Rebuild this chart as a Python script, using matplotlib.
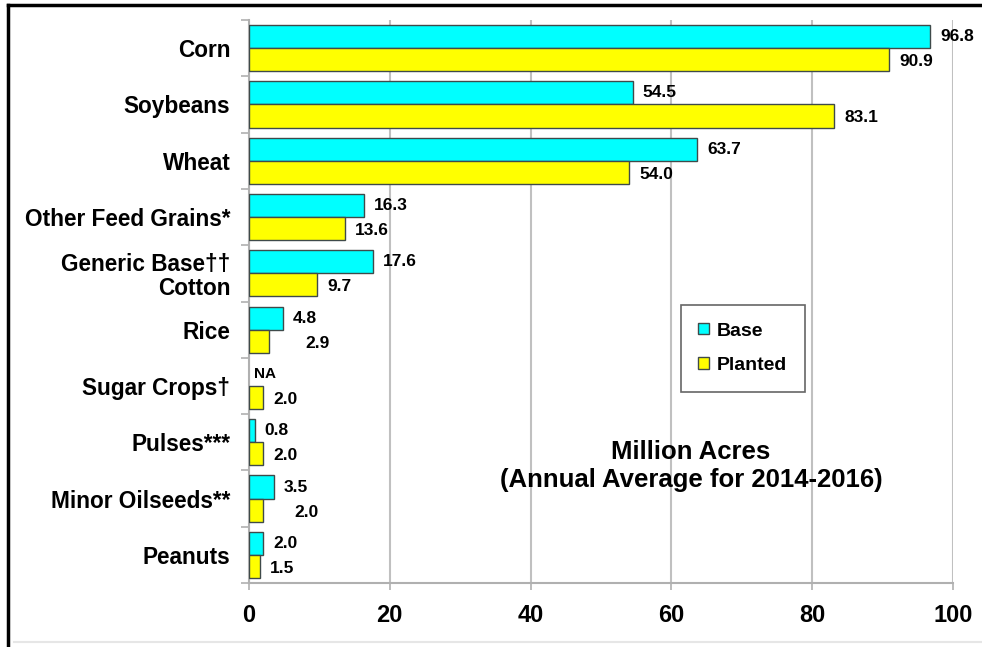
import numpy as np
import matplotlib.pyplot as plt
from matplotlib.lines import Line2D

plt.rcParams['font.family'] = ['Liberation Sans', 'DejaVu Sans']
plt.rcParams['font.weight'] = 'bold'

crops = ["Corn", "Soybeans", "Wheat", "Other Feed Grains*", "Generic Base\u2020\u2020\nCotton",
         "Rice", "Sugar Crops\u2020", "Pulses***", "Minor Oilseeds**", "Peanuts"]
base = [96.8, 54.5, 63.7, 16.3, 17.6, 4.8, np.nan, 0.8, 3.5, 2.0]
planted = [90.9, 83.1, 54.0, 13.6, 9.7, 2.9, 2.0, 2.0, 2.0, 1.5]
base_labels = ["96.8", "54.5", "63.7", "16.3", "17.6", "4.8", "NA", "0.8", "3.5", "2.0"]
planted_labels = ["90.9", "83.1", "54.0", "13.6", "9.7", "2.9", "2.0", "2.0", "2.0", "1.5"]
xticks = [0, 20, 40, 60, 80, 100]

# extra label shift (px) where Excel pushed labels sideways
planted_shift = [0, 0, 0, 0, 0, 26, 0, 0, 21, 0]

fig = plt.figure(figsize=(9.82, 6.47), dpi=100)
ax = fig.add_axes([249 / 982, 1 - 583 / 647, (953 - 249) / 982, (583 - 20) / 647])

n = len(crops)
y = np.arange(n)
h = 0.41
edge = "#3f4a4a"
ax.barh(y - h / 2, base, height=h, color="#00FFFF", edgecolor=edge, linewidth=1, label="Base", zorder=3)
ax.barh(y + h / 2, planted, height=h, color="#FFFF00", edgecolor=edge, linewidth=1, label="Planted", zorder=3)

for i in range(n):
    bv = base[i] if not np.isnan(base[i]) else 0
    if base_labels[i] == "NA":
        ax.annotate("NA", (0, y[i] - h / 2), xytext=(5, 0), textcoords="offset pixels",
                    ha="left", va="center", fontsize=11, fontweight="bold")
    else:
        ax.annotate(base_labels[i], (bv, y[i] - h / 2), xytext=(10, 0), textcoords="offset pixels",
                    ha="left", va="center", fontsize=12.5, fontweight="bold")
    ax.annotate(planted_labels[i], (planted[i], y[i] + h / 2), xytext=(10 + planted_shift[i], -2),
                textcoords="offset pixels", ha="left", va="center", fontsize=12.5, fontweight="bold")

ax.set_xlim(0, 100)
ax.set_ylim(n - 0.5, -0.5)
ax.set_xticks(xticks)
ax.set_xticklabels([str(t) for t in xticks], fontsize=17, fontweight="bold")
ax.set_yticks(y)
ax.set_yticklabels(crops, fontsize=16.3, fontweight="bold", linespacing=1.05)
ax.set_yticks(np.arange(n + 1) - 0.5, minor=True)
ax.tick_params(axis="y", which="major", length=0, pad=13.5)
ax.tick_params(axis="y", which="minor", length=6, color="#b0b0b0", width=1.2)
ax.tick_params(axis="x", which="major", length=5, color="#b0b0b0", width=1.2, pad=10)

ax.grid(axis="x", color="#c0c0c0", linewidth=1.5, zorder=0)
for s in ["top", "right"]:
    ax.spines[s].set_visible(False)
for s in ["left", "bottom"]:
    ax.spines[s].set_color("#b0b0b0")
    ax.spines[s].set_linewidth(1.5)

leg = ax.legend(loc="upper left", bbox_to_anchor=((681 - 249) / 704, 1 - (305 - 20) / 563),
                frameon=True, fancybox=False, edgecolor="#404040",
                handlelength=0.55, handleheight=0.55, handletextpad=0.4, labelspacing=0.9,
                borderpad=0.9, borderaxespad=0, prop={"weight": "bold", "size": 14})
leg.get_frame().set_linewidth(1.2)

ax.text(691 / 982, 1 - 466 / 647, "Million Acres\n(Annual Average for 2014-2016)",
        transform=fig.transFigure, ha="center", va="center", fontsize=18.5, fontweight="bold",
        linespacing=1.2)

# screenshot frame
fig.add_artist(Line2D([8 / 982, 8 / 982], [0, 1 - 5 / 647], color="black", linewidth=2.5,
                      transform=fig.transFigure))
fig.add_artist(Line2D([8 / 982, 1], [1 - 5 / 647, 1 - 5 / 647], color="black", linewidth=2.5,
                      transform=fig.transFigure))
fig.add_artist(Line2D([14 / 982, 1], [5 / 647, 5 / 647], color="#e6e6e6", linewidth=1.5,
                      transform=fig.transFigure))

fig.savefig("out.png", dpi=100)
